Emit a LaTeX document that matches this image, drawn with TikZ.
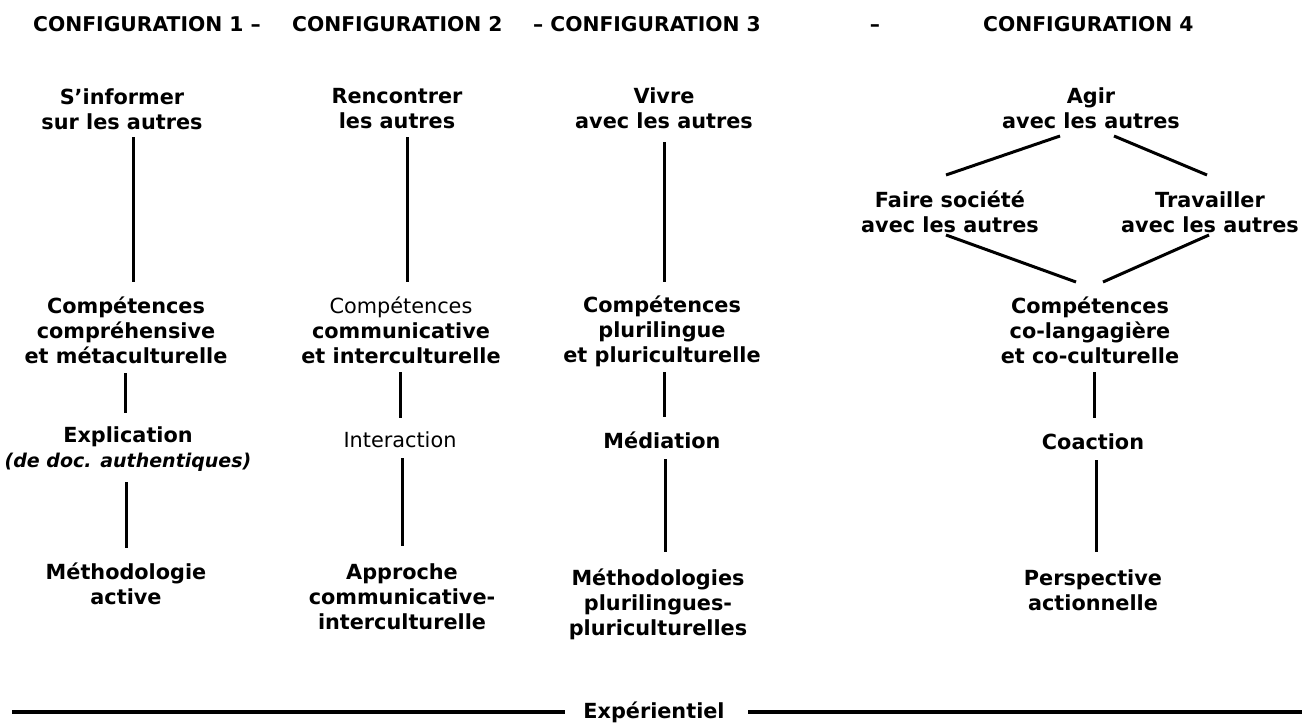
\documentclass[tikz,border=0pt]{standalone}
\usepackage{fontspec}
\setmainfont{DejaVu Sans}
\usetikzlibrary{calc}
\begin{document}
\begin{tikzpicture}[x=1pt,y=-1pt,
  lbl/.style={inner sep=0pt, align=center, font=\fontsize{20.8}{25}\selectfont\bfseries},
  hdr/.style={inner sep=0pt, anchor=base west, font=\fontsize{20.3}{25}\selectfont\bfseries},
  conn/.style={line width=3pt},
  base/.style={line width=4pt}]
\useasboundingbox[fill=white] (0,0) rectangle (1302,723);
% header
\node[hdr] (h1) at (33,31.5) {CONFIGURATION 1 –};
\node[hdr] (h2) at (292,31.5) {CONFIGURATION 2};
\node[hdr] (h3) at (533,31.5) {– CONFIGURATION 3};
\node[hdr,anchor=base] (h4) at (875,31.5) {–};
\node[hdr] (h5) at (983,31.5) {CONFIGURATION 4};
% top row
\node[lbl] (t1) at (122,109) {S’informer\\sur les autres};
\node[lbl] (t2) at (397,109) {Rencontrer\\les autres};
\node[lbl] (t3) at (664,108) {Vivre\\avec les autres};
\node[lbl] (t4) at (1091,108) {Agir\\avec les autres};
\node[lbl] (f1) at (950,212) {Faire société\\avec les autres};
\node[lbl] (f2) at (1210,212) {Travailler\\avec les autres};
% competences
\node[lbl] (c1) at (126,330) {Compétences\\compréhensive\\et métaculturelle};
\node[lbl] (c2) at (401,330) {{\mdseries Compétences}\\communicative\\et interculturelle};
\node[lbl] (c3) at (662,331) {Compétences\\plurilingue\\et pluriculturelle};
\node[lbl] (c4) at (1090,330) {Compétences\\co-langagière\\et co-culturelle};
% modes
\node[lbl] (m1) at (128,449) {Explication\\{\fontsize{19}{25}\selectfont\itshape (de doc. authentiques)}};
\node[lbl,font=\fontsize{20.8}{25}\selectfont\mdseries] (m2) at (400,440) {Interaction};
\node[lbl] (m3) at (662,440) {Médiation};
\node[lbl] (m4) at (1093,442) {Coaction};
% methodologies
\node[lbl] (b1) at (126,584) {Méthodologie\\active};
\node[lbl] (b2) at (402,597) {Approche\\communicative-\\interculturelle};
\node[lbl] (b3) at (658,604) {Méthodologies\\plurilingues-\\pluriculturelles};
\node[lbl] (b4) at (1093,590) {Perspective\\actionnelle};
% bottom
\node[lbl] (exp) at (654,712) {Expérientiel};
% connectors col 1
\draw[conn] ($(t1.center)+(11,28)$) -- ($(c1.center)+(7,-48)$);
\draw[conn] ($(c1.center)+(-1,43)$) -- ($(m1.center)+(-3,-36)$);
\draw[conn] ($(m1.center)+(-2,33)$) -- ($(b1.center)+(0,-36)$);
% col 2
\draw[conn] ($(t2.center)+(10,28)$) -- ($(c2.center)+(6,-48)$);
\draw[conn] ($(c2.center)+(-1,42)$) -- ($(m2.center)+(0,-22)$);
\draw[conn] ($(m2.center)+(2,18)$) -- ($(b2.center)+(0,-51)$);
% col 3
\draw[conn] ($(t3.center)+(0,34)$) -- ($(c3.center)+(2,-49)$);
\draw[conn] ($(c3.center)+(2,41)$) -- ($(m3.center)+(2,-23)$);
\draw[conn] ($(m3.center)+(3,19)$) -- ($(b3.center)+(7,-52)$);
% col 4
\draw[conn] ($(t4.center)+(-31,28)$) -- ($(f1.center)+(-4,-37)$);
\draw[conn] ($(t4.center)+(23,28)$) -- ($(f2.center)+(-3,-37)$);
\draw[conn] ($(f1.center)+(-4,23)$) -- ($(c4.center)+(-14,-48)$);
\draw[conn] ($(f2.center)+(-1,23)$) -- ($(c4.center)+(13,-48)$);
\draw[conn] ($(c4.center)+(4,42)$) -- ($(m4.center)+(1,-24)$);
\draw[conn] ($(m4.center)+(3,18)$) -- ($(b4.center)+(3,-38)$);
% experiential axis
\draw[base] ($(exp.center)+(-642,0)$) -- ($(exp.center)+(-89,0)$);
\draw[base] ($(exp.center)+(94,0)$) -- ($(exp.center)+(648,0)$);
\end{tikzpicture}
\end{document}
